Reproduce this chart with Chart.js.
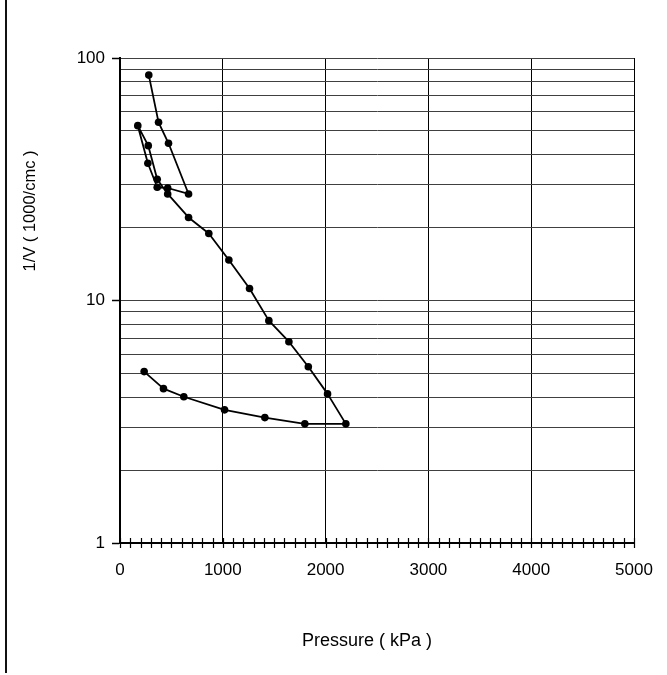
<!DOCTYPE html>
<html>
<head>
<meta charset="utf-8">
<title>1/V vs Pressure</title>
<script src="https://cdn.jsdelivr.net/npm/chart.js@4.4.1/dist/chart.umd.min.js"></script>
<style>
    body { margin: 0; background: #fff; }
    #wrap { position: relative; width: 667px; height: 675px; }
    #frame { position: absolute; left: 5px; top: 0; height: 673px; border-left: 2px solid #111; }
</style>
</head>
<body>
<div id="wrap">
    <canvas id="grafico" width="667" height="675"></canvas>
    <div id="frame"></div>
</div>
<script>
// valores: presion (kPa) y 1/V (1000/cmc), en el orden del trazo
const presion = [280, 375, 472, 667, 464, 362, 271, 173, 275, 362, 464, 667, 864, 1059, 1260, 1448, 1643, 1832, 2019, 2197, 1798, 1409, 1017, 621, 423, 235];
const inversaV = [85, 54.3, 44.5, 27.5, 29.1, 29.3, 36.8, 52.6, 43.5, 31.6, 27.5, 22.0, 18.9, 14.7, 11.2, 8.26, 6.76, 5.33, 4.12, 3.10, 3.10, 3.29, 3.54, 4.01, 4.33, 5.09];

const ticksX = [0, 1000, 2000, 3000, 4000, 5000];
const ticksY = [1, 10, 100];
// lineas horizontales de la grilla logaritmica
const lineasY = [1, 2, 3, 4, 5, 6, 7, 8, 9, 10, 20, 30, 40, 50, 60, 70, 80, 90, 100];
const pasoMenorX = 100;

const tituloX = 'Pressure ( kPa )';
const tituloY = '1/V ( 1000/cmc )';
const fuente = 'Arial, "Liberation Sans", sans-serif';

const puntos = presion.map((p, i) => ({ x: p, y: inversaV[i] }));

// marcas menores del eje X y titulos de los ejes
const marcasPlugin = {
    id: 'marcas',
    afterDraw(chart) {
        const { ctx, chartArea, scales } = chart;
        const x = scales.x;
        ctx.save();
        ctx.strokeStyle = '#000';
        ctx.lineWidth = 1.2;
        ctx.beginPath();
        for (let v = x.min; v <= x.max; v += pasoMenorX) {
            const px = Math.round(x.getPixelForValue(v)) + 0.5;
            ctx.moveTo(px, chartArea.bottom - 5);
            ctx.lineTo(px, chartArea.bottom + 5);
        }
        ctx.stroke();

        ctx.fillStyle = '#000';
        ctx.textBaseline = 'alphabetic';
        ctx.textAlign = 'center';
        ctx.font = '18px ' + fuente;
        ctx.fillText(tituloX, 367, 646);

        ctx.translate(35, 211);
        ctx.rotate(-Math.PI / 2);
        ctx.font = '16.5px ' + fuente;
        ctx.fillText(tituloY, 0, 0);
        ctx.restore();
    }
};

const config = {
    type: 'scatter',
    data: {
        datasets: [{
            data: puntos,
            showLine: true,
            borderColor: '#000',
            borderWidth: 1.8,
            borderJoinStyle: 'round',
            pointRadius: 3.8,
            pointBackgroundColor: '#000',
            pointBorderWidth: 0,
            tension: 0
        }]
    },
    options: {
        responsive: false,
        animation: false,
        layout: { padding: { top: 58, right: 33, left: 0, bottom: 0 } },
        plugins: {
            legend: { display: false },
            tooltip: { enabled: false }
        },
        scales: {
            x: {
                type: 'linear',
                min: 0,
                max: 5000,
                afterBuildTicks: (scale) => { scale.ticks = ticksX.map(v => ({ value: v })); },
                afterFit: (scale) => {
                    scale.height = 132;
                    scale.paddingLeft = 0;
                    scale.paddingRight = 0;
                },
                ticks: {
                    padding: 17,
                    color: '#000',
                    font: { family: fuente, size: 17 },
                    callback: (value) => String(value)
                },
                grid: { color: '#000', lineWidth: 1, drawTicks: false },
                border: { display: true, color: '#000', width: 2 }
            },
            y: {
                type: 'logarithmic',
                min: 1,
                max: 100,
                afterBuildTicks: (scale) => { scale.ticks = lineasY.map(v => ({ value: v, major: ticksY.includes(v) })); },
                afterFit: (scale) => { scale.width = 120; },
                ticks: {
                    autoSkip: false,
                    padding: 7,
                    color: '#000',
                    font: { family: fuente, size: 17 },
                    callback: (value) => ticksY.includes(value) ? String(value) : ''
                },
                grid: {
                    color: '#404040',
                    lineWidth: 1,
                    tickLength: 8,
                    tickColor: (ctx) => (ctx.tick && ticksY.includes(ctx.tick.value)) ? '#000' : 'rgba(0,0,0,0)',
                    tickWidth: 1.5
                },
                border: { display: true, color: '#000', width: 2 }
            }
        }
    },
    plugins: [marcasPlugin]
};

new Chart(document.getElementById('grafico').getContext('2d'), config);
</script>
</body>
</html>
